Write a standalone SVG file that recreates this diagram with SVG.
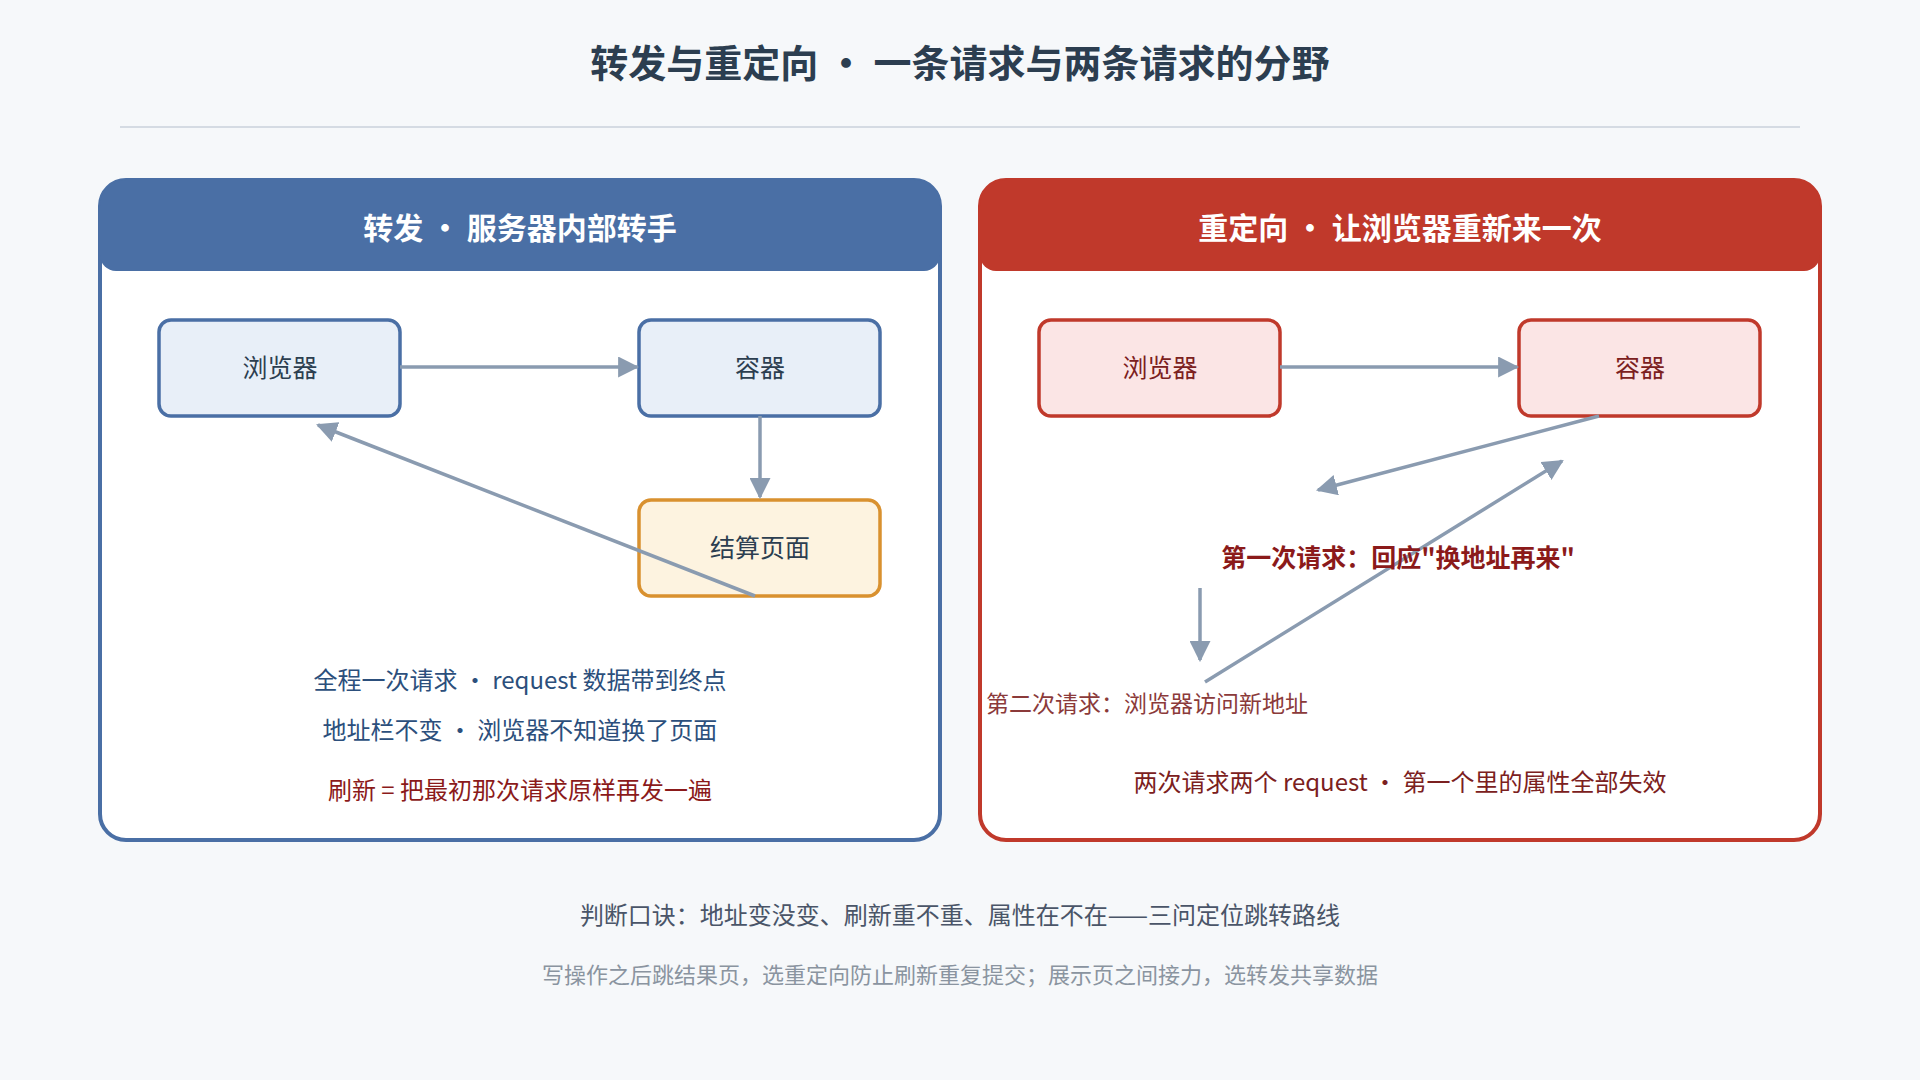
<svg xmlns="http://www.w3.org/2000/svg" width="1920" height="1080" viewBox="0 0 1920 1080">
<style>
text{font-family:"Noto Sans CJK SC","Noto Sans",sans-serif;text-anchor:middle}
.nb{fill:#e8eff8;stroke:#4a6fa5;stroke-width:3.5}
.nr{fill:#fbe5e5;stroke:#c0392b;stroke-width:3.5}
.no{fill:#fdf3e0;stroke:#d9912f;stroke-width:3.5}
.lbl{font-size:25px;fill:#2c3e50}
.lr{font-size:25px;fill:#7b2020}
.ln{stroke:#8a9bb0;stroke-width:3.5;fill:none}
</style>
<defs><marker id="a" viewBox="0 0 10 10" refX="9" refY="5" markerWidth="6" markerHeight="6" orient="auto"><path d="M0,0L10,5L0,10z" fill="#8a9bb0"/></marker></defs>
<rect width="1920" height="1080" fill="#f6f8fa"/>
<text x="960" y="77" font-size="38" font-weight="bold" fill="#2c3e50">转发与重定向 · 一条请求与两条请求的分野</text>
<line x1="120" y1="127" x2="1800" y2="127" stroke="#d5dbe3" stroke-width="2"/>
<g id="left-panel">
<rect x="100" y="180" width="840" height="660" rx="26" fill="#fff" stroke="#4a6fa5" stroke-width="4"/>
<path d="M100,206a26,26 0 0 1 26,-26h788a26,26 0 0 1 26,26v49a16,16 0 0 1 -16,16h-808a16,16 0 0 1 -16,-16z" fill="#4a6fa5"/>
<text x="520" y="239" font-size="30" font-weight="bold" fill="#fff">转发 · 服务器内部转手</text>
</g>
<g id="right-panel">
<rect x="980" y="180" width="840" height="660" rx="26" fill="#fff" stroke="#c0392b" stroke-width="4"/>
<path d="M980,206a26,26 0 0 1 26,-26h788a26,26 0 0 1 26,26v49a16,16 0 0 1 -16,16h-808a16,16 0 0 1 -16,-16z" fill="#c0392b"/>
<text x="1400" y="239" font-size="30" font-weight="bold" fill="#fff">重定向 · 让浏览器重新来一次</text>
</g>
<g id="l-browser"><rect class="nb" x="159" y="320" width="241" height="96" rx="12"/><text class="lbl" x="280" y="377">浏览器</text></g>
<g id="l-container"><rect class="nb" x="639" y="320" width="241" height="96" rx="12"/><text class="lbl" x="760" y="377">容器</text></g>
<g id="l-page"><rect class="no" x="639" y="500" width="241" height="96" rx="12"/><text class="lbl" x="760" y="557">结算页面</text></g>
<g id="r-browser"><rect class="nr" x="1039" y="320" width="241" height="96" rx="12"/><text class="lr" x="1160" y="377">浏览器</text></g>
<g id="r-container"><rect class="nr" x="1519" y="320" width="241" height="96" rx="12"/><text class="lr" x="1640" y="377">容器</text></g>
<g id="connectors">
<line class="ln" x1="400" y1="367" x2="637" y2="367" marker-end="url(#a)"/>
<line class="ln" x1="760" y1="416" x2="760" y2="497" marker-end="url(#a)"/>
<line class="ln" x1="755" y1="596" x2="318" y2="425" marker-end="url(#a)"/>
<line class="ln" x1="1280" y1="367" x2="1517" y2="367" marker-end="url(#a)"/>
<line class="ln" x1="1599" y1="416" x2="1318" y2="490" marker-end="url(#a)"/>
<line class="ln" x1="1205" y1="682" x2="1562" y2="461" marker-end="url(#a)"/>
<line class="ln" x1="1200" y1="588" x2="1200" y2="660" marker-end="url(#a)"/>
</g>
<text x="1398" y="567" font-size="25" font-weight="bold" fill="#8b1a1a">第一次请求：回应"换地址再来"</text>
<text x="986" y="712" font-size="23" fill="#8b3a3a" style="text-anchor:start">第二次请求：浏览器访问新地址</text>
<text x="1400" y="791" font-size="24" fill="#7b2020">两次请求两个 request · 第一个里的属性全部失效</text>
<text x="520" y="689" font-size="24" fill="#2c4f7c">全程一次请求 · request 数据带到终点</text>
<text x="520" y="739" font-size="24" fill="#2c4f7c">地址栏不变 · 浏览器不知道换了页面</text>
<text x="520" y="799" font-size="24" fill="#8b1a1a">刷新 = 把最初那次请求原样再发一遍</text>
<text x="960" y="924" font-size="24" fill="#4a5568">判断口诀：地址变没变、刷新重不重、属性在不在——三问定位跳转路线</text>
<text x="960" y="983" font-size="22" fill="#8a94a0">写操作之后跳结果页，选重定向防止刷新重复提交；展示页之间接力，选转发共享数据</text>
</svg>
